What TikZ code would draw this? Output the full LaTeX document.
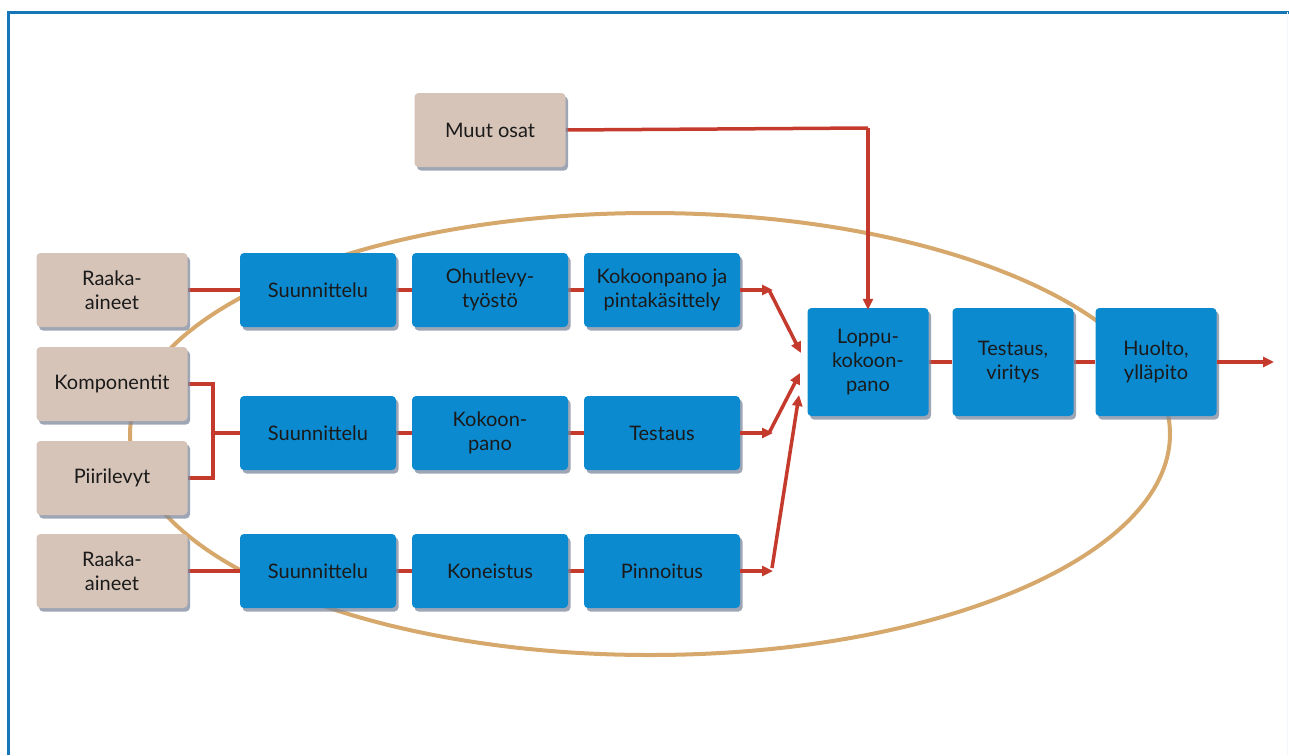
\documentclass[tikz,border=0pt]{standalone}
\usepackage{fontspec}
\setmainfont{Lato}
\usetikzlibrary{arrows.meta,shadows,backgrounds}
\definecolor{boxblue}{HTML}{0B8AD0}
\definecolor{beigec}{HTML}{D6C4B8}
\definecolor{redc}{HTML}{C43A2C}
\definecolor{tanc}{HTML}{D6A86C}
\definecolor{framec}{HTML}{1676B8}
\definecolor{textc}{HTML}{1A1A1A}
\definecolor{shadowc}{HTML}{7E889C}
\tikzset{
  base/.style={rectangle, rounded corners=4pt, inner sep=0pt, align=center,
    text=textc, font=\fontsize{20}{24}\selectfont,
    drop shadow={shadow xshift=2.5pt, shadow yshift=-3.5pt, fill=shadowc, opacity=0.75}},
  srcbox/.style={base, fill=beigec, minimum width=151pt, minimum height=74pt},
  procbox/.style={base, fill=boxblue, minimum width=156pt, minimum height=74pt},
  bigbox/.style={base, fill=boxblue, minimum width=121pt, minimum height=108pt},
  conn/.style={draw=redc, line width=3.5pt},
  arr/.style={conn, -{Triangle[length=11pt,width=10pt]}},
  loop/.style={draw=tanc, line width=4pt}
}
\begin{document}
\begin{tikzpicture}[x=1pt,y=-1pt]
\useasboundingbox (0,0) rectangle (1289,755);
% frame
\draw[framec, line width=3pt] (8,755) -- (8,12) -- (1289,12);
\draw[framec!6, line width=1.5pt] (1287.5,12) -- (1287.5,755);

% source boxes
\node[srcbox] (muut) at (490,130) {Muut osat};
\node[srcbox] (raaka1) at (112,290) {Raaka-\\aineet};
\node[srcbox] (komp) at (112,384) {Komponentit};
\node[srcbox] (piiri) at (112,478) {Piirilevyt};
\node[srcbox] (raaka2) at (112,571) {Raaka-\\aineet};

% process rows
\node[procbox] (s1) at (318,290) {Suunnittelu};
\node[procbox] (o1) at (490,290) {Ohutlevy-\\työstö};
\node[procbox] (k1) at (662,290) {Kokoonpano ja\\pintakäsittely};
\node[procbox] (s2) at (318,433) {Suunnittelu};
\node[procbox] (k2) at (490,433) {Kokoon-\\pano};
\node[procbox] (t2) at (662,433) {Testaus};
\node[procbox] (s3) at (318,571) {Suunnittelu};
\node[procbox] (k3) at (490,571) {Koneistus};
\node[procbox] (p3) at (662,571) {Pinnoitus};

% final chain
\node[bigbox] (lop) at (868,362) {Loppu-\\kokoon-\\pano};
\node[bigbox] (tes) at (1013,362) {Testaus,\\viritys};
\node[bigbox] (huo) at (1156,362) {Huolto,\\ylläpito};

% helper coordinates
\coordinate (a1) at (773,290);
\coordinate (a2) at (773,433);
\coordinate (a3) at (773,571);
\coordinate (e1) at (801,353);
\coordinate (e2) at (800,373);
\coordinate (e3) at (799,395);
\coordinate (mc) at (868,128);
\coordinate (out) at (1274,362);
\coordinate (jn) at (213,433);

\begin{pgfonlayer}{background}
  \draw[loop] (650,434) ellipse [x radius=520, y radius=221];
  % input connectors
  \draw[conn] (raaka1.east) -- (s1.west);
  \draw[conn] (raaka2.east) -- (s3.west);
  \draw[conn] (komp.east) -| (jn) |- (piiri.east);
  \draw[conn] (jn) -- (s2.west);
  % row connectors
  \draw[conn] (s1) -- (o1); \draw[conn] (o1) -- (k1);
  \draw[conn] (s2) -- (k2); \draw[conn] (k2) -- (t2);
  \draw[conn] (s3) -- (k3); \draw[conn] (k3) -- (p3);
  \draw[conn] (lop) -- (tes); \draw[conn] (tes) -- (huo);
  \draw[conn] (muut.east) -- (mc);
\end{pgfonlayer}

% arrows
\draw[arr] (k1.east) -- (a1);
\draw[arr] (t2.east) -- (a2);
\draw[arr] (p3.east) -- (a3);
\draw[arr] ([xshift=-4pt]a1) -- (e1);
\draw[arr] ([xshift=-4pt]a2) -- (e2);
\draw[arr] ([xshift=-1pt,yshift=3pt]a3) -- (e3);
\draw[arr] (mc) -- ([yshift=-2pt]lop.north);
\draw[arr] (huo.east) -- (out);
\end{tikzpicture}
\end{document}
